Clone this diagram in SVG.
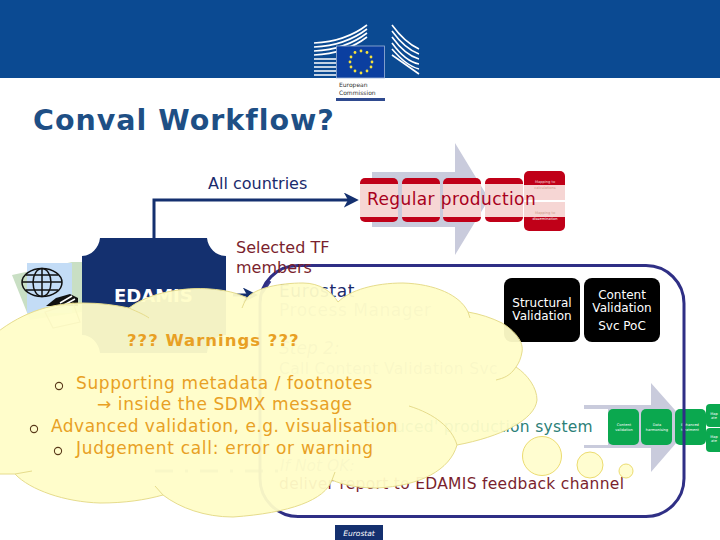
<svg xmlns="http://www.w3.org/2000/svg" width="720" height="540" viewBox="0 0 720 540">
<style>
text{font-family:"DejaVu Sans",Verdana,sans-serif}
.red{fill:#c00018}.pale{fill:#f6d6d4}.grn{fill:#0ba84f}
.wt{fill:#fff;font-size:3.6px;text-anchor:middle}
.blk{fill:#000}.vt{fill:#fff;font-size:12px;text-anchor:middle}
.or{fill:#e8a024;font-size:17px}
.bul{fill:none;stroke:#5a3a1a;stroke-width:1.1}
</style>
<defs>
<marker id="ah" markerWidth="5" markerHeight="5" refX="3.4" refY="2.5" orient="auto"><path d="M0,0L5,2.5L0,5L1.4,2.5Z" fill="#14306f"/></marker>
</defs>
<rect width="720" height="540" fill="#fff"/>
<g id="header">
<rect width="720" height="78" fill="#0b4a92"/>
<g fill="none" stroke="#fff" stroke-width="1.6">
<path d="M314,43C335,42 354,35 367,25M314,47C335,46 354,39 367,29M314,51C335,50 354,43 367,33M314,55C335,54 354,47 367,37M314,59H336M314,63H336M314,67H336M314,71H336M314,75H336"/>
<path d="M392,25C400,36 408,44 419,49M392,31C400,42 408,50 419,54M392,37C400,48 408,56 419,59M392,43C400,54 408,62 419,64M392,49C400,58 408,66 419,69M392,55L419,74"/>
</g>
<rect x="336.500" y="46" width="48" height="32" fill="#0b3fa0" stroke="#9db4d8" stroke-width=".8"/>
<g fill="#f5e23c"><circle cx="361" cy="51" r="1.4"/><circle cx="367" cy="52.500" r="1.4"/><circle cx="371" cy="57" r="1.4"/><circle cx="372" cy="62" r="1.4"/><circle cx="371" cy="67" r="1.4"/><circle cx="367" cy="71" r="1.4"/><circle cx="361" cy="73" r="1.4"/><circle cx="355" cy="71" r="1.4"/><circle cx="351" cy="67" r="1.4"/><circle cx="350" cy="62" r="1.4"/><circle cx="351" cy="57" r="1.4"/><circle cx="355" cy="52.500" r="1.4"/></g>
<text x="339" y="87" font-size="6" fill="#333">European</text>
<text x="339" y="95" font-size="6" fill="#333">Commission</text>
<rect x="336" y="98" width="49" height="3" fill="#2f4a8f"/>
</g>
<text id="title" x="33" y="130" font-size="28.500" font-weight="700" letter-spacing="1" fill="#1e4f85">Conval Workflow?</text>
<g id="regular-production">
<path d="M372,172H455V143L489,199L455,255V227H372Z" fill="#c9cbdc"/>
<g><rect x="360" y="178" width="38" height="44" rx="5" class="red"/><rect x="402" y="178" width="38" height="44" rx="5" class="red"/><rect x="443" y="178" width="38" height="44" rx="5" class="red"/><rect x="485" y="178" width="38" height="44" rx="5" class="red"/><rect x="524" y="171" width="41" height="29" rx="5" class="red"/><rect x="524" y="202" width="41" height="29" rx="5" class="red"/></g>
<g class="pale"><rect x="360" y="184" width="38" height="33"/><rect x="402" y="184" width="38" height="33"/><rect x="443" y="184" width="38" height="33"/><rect x="485" y="184" width="38" height="33"/><rect x="524" y="185" width="41" height="15"/><rect x="524" y="202" width="41" height="15"/></g>
<text x="545" y="183" class="wt" opacity=".8">Mapping to</text><text x="545" y="189" class="wt" style="fill:#c98">calculations</text>
<text x="545" y="214" class="wt" style="fill:#c98">Mapping to</text><text x="545" y="220" class="wt">dissemination</text>
<text x="367" y="205" font-size="17" letter-spacing=".4" fill="#a8001c">Regular production</text>
</g>
<g id="reduced-production">
<path d="M584,405H651V383L690,427L651,472V448H584Z" fill="#c9cbdc"/>
<rect x="584" y="409" width="24" height="36" fill="#fff"/>
<g class="grn"><rect x="608" y="409" width="31" height="36" rx="5"/><rect x="641" y="409" width="31" height="36" rx="5"/><rect x="675" y="409" width="31" height="36" rx="5"/><rect x="706" y="404" width="20" height="23" rx="4"/><rect x="706" y="428" width="20" height="24" rx="4"/></g>
<g class="wt"><text x="624" y="426">Content</text><text x="624" y="431">validation</text><text x="657" y="426">Data</text><text x="657" y="431">harmonising</text><text x="690" y="426">Enhanced</text><text x="690" y="431">treatment</text></g>
<text x="714" y="415" class="wt">Map</text><text x="714" y="419" class="wt">ate</text><text x="714" y="438" class="wt">Map</text><text x="714" y="442" class="wt">ate</text>
<text x="593" y="432" font-size="15.500" letter-spacing=".3" text-anchor="end" fill="#2c7f78">'Reduced' production system</text>
</g>
<g id="connectors" fill="none">
<path d="M154,240V200H354" stroke="#14306f" stroke-width="3" marker-end="url(#ah)"/>
<path d="M233,295H253" stroke="#14306f" stroke-width="3" marker-end="url(#ah)"/>
<path d="M270,281L262,293" stroke="#3a3a8c" stroke-width="3"/>
<path d="M155,471H280" stroke="#14306f" stroke-width="3" stroke-dasharray="18 12 3 12" opacity=".6"/>
</g>
<g id="frame"><rect x="260" y="265.500" width="424" height="251" rx="38" fill="none" stroke="#2f2f85" stroke-width="3"/></g>
<g id="icons">
<path d="M12,275L72,262L82,262V312L30,320Z" fill="#c9dfc4"/>
<rect x="27" y="263" width="45" height="50" fill="#c3dcf6"/>
<g fill="none" stroke="#111" stroke-width="1.5"><ellipse cx="42" cy="282.500" rx="20" ry="14"/><ellipse cx="42" cy="282.500" rx="9" ry="14"/><path d="M42,268V297M22,282H62M26,275H58M26,290H58"/></g>
<path d="M46,306L56,298L70,294L78,298L78,306Z" fill="#111"/>
<path d="M60,303L72,296M64,305L75,299" stroke="#fff" stroke-width="1.500"/>
<path d="M45,312L73,303L80,322L53,328Z" fill="none" stroke="#8a7a50" stroke-width="1.2"/>
</g>
<g id="edamis">
<path d="M100,238H207C208,248 216,256 226,256V335C216,335 208,343 207,353H100C99,343 91,335 82,335V256C91,256 99,248 100,238Z" fill="#14306f"/>
<text x="114" y="302" font-size="18" font-weight="700" fill="#fff">EDAMIS</text>
</g>
<g id="labels">
<text x="208" y="189" font-size="16" fill="#1a2a6c">All countries</text>
<text x="236" y="253" font-size="16" fill="#7a1f2e">Selected TF</text>
<text x="236" y="273" font-size="16" fill="#7a1f2e">members</text>
</g>
<g id="manager" fill="#1a2a6c" font-size="17">
<text x="279" y="297" letter-spacing=".6">Eurostat</text>
<g fill-opacity=".55">
<text x="279" y="316" letter-spacing=".55">Process Manager</text>
<text x="279" y="354" font-style="italic">Step 2:</text>
<text x="279" y="374" font-size="15.500" letter-spacing=".35">Call Content Validation Svc</text>
<text x="280" y="471" font-size="15.500" font-style="italic">If Not OK:</text>
</g>
</g>
<text x="279" y="489" font-size="15.500" letter-spacing=".3" fill="#7a1f2e">deliver report to EDAMIS feedback channel</text>
<g id="validation">
<rect x="504" y="278" width="76" height="64" rx="8" class="blk"/>
<rect x="584" y="278" width="76" height="64" rx="8" class="blk"/>
<text x="542" y="307" class="vt">Structural</text><text x="542" y="320" class="vt">Validation</text>
<text x="622" y="299" class="vt">Content</text><text x="622" y="312" class="vt">Validation</text><text x="622" y="330" class="vt">Svc PoC</text>
</g>
<g id="cloud">
<path d="M-5,334C25,310 55,303 83,303C100,303 115,305 129,308C150,292 185,287 210,289C225,290 238,293 247,298C255,288 280,283 303,283C320,283 332,292 338,302C350,290 375,283 403,283C435,284 460,295 468,312C480,314 492,318 502,323C515,331 524,342 522,352C521,358 519,363 516,367C528,375 537,388 537,400C535,420 500,437 457,445C450,470 420,486 377,488C358,488 343,485 332,480C325,500 290,513 233,517C205,517 180,508 163,495C145,500 125,503 100,503C65,502 30,490 15,474L-5,474Z" fill="#fffdc8" fill-opacity=".95" stroke="#e6dc8c" stroke-width="1"/>
<g fill="none" stroke="#e6dc8c" stroke-width="1"><path d="M129,308C138,312 145,315 149,318M247,298C244,302 243,306 242,308M468,312L470,318M516,367C510,376 504,378 496,380M409,406C435,414 452,428 457,445M335,472L332,480M155,486L163,495M15,474L32,471"/></g>
<circle cx="542" cy="456" r="19.500" fill="#fffdc8" fill-opacity=".85" stroke="#ecdc70"/>
<circle cx="590" cy="465" r="13" fill="#fffdc8" fill-opacity=".85" stroke="#ecdc70"/>
<circle cx="626" cy="471" r="7" fill="#fffdc8" fill-opacity=".85" stroke="#ecdc70"/>
</g>
<g id="cloud-text">
<text x="127" y="346" font-size="16.500" font-weight="700" letter-spacing="1" fill="#e8a024">??? Warnings ???</text>
<text x="76" y="389" class="or" letter-spacing=".6">Supporting metadata / footnotes</text>
<text x="97" y="410" class="or" letter-spacing=".6">→ inside the SDMX message</text>
<text x="51" y="432" class="or" letter-spacing=".5">Advanced validation, e.g. visualisation</text>
<text x="76" y="454" class="or" letter-spacing=".7">Judgement call: error or warning</text>
<circle cx="59" cy="386" r="3.600" class="bul"/><circle cx="34" cy="429" r="3.600" class="bul"/><circle cx="58" cy="451" r="3.600" class="bul"/>
</g>
<g id="footer"><rect x="335" y="525" width="48" height="15" fill="#14306f"/><text x="359" y="536" font-size="7.500" font-style="italic" fill="#fff" text-anchor="middle">Eurostat</text></g>
</svg>
